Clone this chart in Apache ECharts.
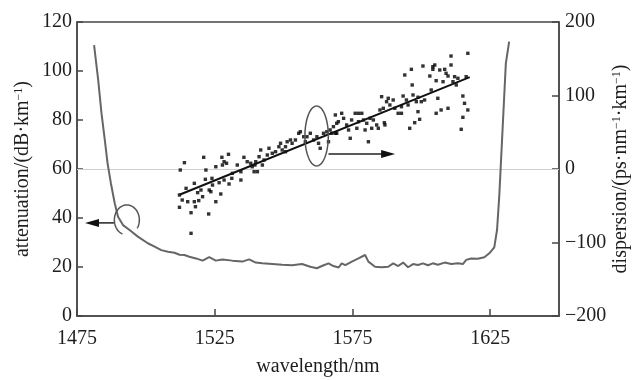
<!DOCTYPE html>
<html><head><meta charset="utf-8">
<script src="https://cdn.jsdelivr.net/npm/echarts@6/dist/echarts.min.js"></script>
<style>html,body{margin:0;padding:0;background:#fff}#c{width:635px;height:380px}</style>
</head><body><div id="c"></div>
<script>
// ---- data ----
const xTicks = [1475, 1525, 1575, 1625];
const attWavelength = [1481.2,1482.7,1483.9,1485.1,1486.1,1487.3,1488.7,1489.9,1491.7,1494.1,1497.1,1500.7,1503.0,1505.6,1508.0,1510.4,1512.2,1514.0,1515.8,1518.2,1520.6,1523.0,1525.4,1527.8,1531.4,1535.0,1537.5,1539.9,1542.3,1545.9,1549.5,1553.1,1556.7,1559.7,1562.1,1563.9,1566.3,1568.1,1570.0,1571.1,1572.4,1574.8,1577.2,1579.6,1580.8,1583.2,1585.6,1588.0,1589.8,1591.6,1593.4,1595.2,1597.0,1598.8,1600.6,1602.4,1604.2,1606.0,1608.5,1610.9,1613.3,1615.1,1616.3,1618.1,1620.5,1622.9,1624.7,1626.5,1627.5,1628.3,1628.9,1629.5,1630.1,1630.7,1631.9];
const attenuation = [110.6,96.3,82.7,71.8,62.3,54.2,46.0,40.5,37.1,35.1,32.4,29.7,28.4,26.9,26.2,25.8,25.0,24.9,24.2,23.5,22.6,24.0,22.6,23.1,22.6,22.2,23.1,21.8,21.5,21.2,20.9,20.7,21.2,20.1,19.5,20.4,21.5,20.4,19.8,21.5,20.8,22.2,23.5,24.9,22.2,20.1,19.9,20.1,21.5,20.4,21.8,19.9,21.2,20.8,21.5,20.7,21.5,20.9,21.8,21.2,21.5,21.2,22.9,23.5,23.4,24.0,25.6,28.0,35.1,48.7,62.3,75.9,89.5,103.1,112.0];
const dispWavelength = [1514.0,1512.5,1521.0,1527.6,1530.0,1528.4,1529.3,1527.8,1521.8,1525.4,1533.2,1535.6,1536.8,1538.1,1539.6,1540.5,1534.5,1531.4,1531.2,1528.4,1526.6,1524.0,1521.6,1517.6,1514.6,1534.5,1530.2,1524.2,1520.0,1523.0,1518.8,1512.2,1513.2,1515.2,1520.6,1523.6,1527.2,1525.4,1517.6,1519.2,1512.2,1518.0,1516.4,1522.8,1516.4,1538.6,1539.9,1539.3,1541.1,1541.7,1542.9,1544.1,1544.7,1545.9,1547.1,1548.3,1548.9,1549.5,1550.7,1551.3,1552.5,1553.1,1554.3,1555.5,1556.1,1557.3,1558.5,1559.7,1560.9,1562.7,1563.3,1562.1,1564.5,1565.7,1566.3,1566.9,1568.1,1569.3,1568.8,1542.3,1550.7,1557.9,1594.0,1568.8,1571.1,1571.8,1569.9,1572.9,1574.7,1576.0,1577.2,1578.4,1577.2,1579.0,1580.2,1581.4,1582.6,1583.8,1584.4,1585.0,1586.2,1585.6,1587.4,1588.6,1588.0,1589.8,1590.4,1591.6,1592.8,1594.6,1573.6,1576.6,1579.6,1582.0,1574.2,1580.8,1567.5,1586.6,1586.8,1569.3,1610.8,1616.9,1596.4,1600.6,1604.2,1604.9,1606.7,1608.5,1610.8,1603.1,1604.2,1609.0,1609.7,1612.1,1613.3,1616.3,1611.5,1607.9,1605.4,1596.7,1612.7,1603.6,1593.4,1597.0,1598.8,1600.0,1601.2,1595.2,1598.2,1606.0,1615.1,1615.7,1616.9,1598.8,1607.2,1609.7,1605.4,1599.4,1597.6,1595.8,1615.1,1614.5,1592.8];
const dispersion = [8.6,-1.4,15.9,15.9,20.0,9.9,7.8,5.4,-1.4,3.1,5.4,15.9,9.9,7.8,5.4,-3.7,-3.7,-5.9,-12.7,-15.0,-18.6,-12.7,-14.0,-19.5,-26.3,-15.0,-20.4,-21.8,-28.6,-28.6,-32.2,-35.4,-42.2,-44.5,-37.7,-30.9,-34.0,-44.5,-44.5,-43.0,-52.1,-51.3,-59.5,-61.2,-87.5,3.1,9.9,-3.7,16.7,25.9,12.2,19.0,28.2,21.4,23.5,30.3,35.0,25.9,30.3,37.1,39.5,35.0,39.5,48.6,50.7,43.9,43.9,48.6,39.5,35.0,28.2,43.9,48.6,50.7,37.1,53.1,57.6,62.2,48.6,5.4,23.5,37.1,127.9,73.5,75.8,69.0,64.4,59.9,66.7,75.8,75.8,75.8,64.4,66.7,62.2,69.0,66.7,59.9,55.4,80.3,82.6,98.4,91.6,87.1,96.2,93.9,82.6,75.8,84.8,93.9,53.1,55.4,53.1,55.4,41.8,37.1,48.6,63.0,59.9,48.6,153.7,157.4,135.6,140.1,139.2,141.5,134.7,135.6,141.5,126.5,135.6,130.2,126.5,125.6,123.4,125.6,118.8,118.8,120.1,114.3,114.3,107.5,99.3,100.7,97.6,91.6,93.9,87.1,91.6,96.2,99.3,89.4,80.3,78.0,80.3,82.6,75.8,67.6,63.0,55.4,70.3,54.0,75.8];
const fitWavelength = [1512.2, 1617.6];
const fitDispersion = [-35, 125];

const FONT = 'Liberation Serif';
const TXT = '#1e1e1e';
const AX = '#474747';
const minusFmt = v => String(v).replace('-', '\u2212');
const nameStyle = {fontFamily: FONT, fontSize: 20, color: TXT,
  rich: {sup: {fontFamily: FONT, fontSize: 12, color: TXT, verticalAlign: 'top', lineHeight: 12}}};

const chart = echarts.init(document.getElementById('c'), null, {renderer: 'canvas'});
chart.setOption({
  animation: false,
  backgroundColor: '#fff',
  grid: {left: 77, right: 76, top: 22, bottom: 64, show: true, borderColor: AX, borderWidth: 1.5,
    containLabel: false, outerBoundsMode: 'none'},
  xAxis: {
    type: 'value', min: 1475, max: 1650,
    axisLine: {lineStyle: {color: AX, width: 1.5}},
    axisTick: {inside: true, length: 7, customValues: xTicks, lineStyle: {color: AX, width: 1.5}},
    axisLabel: {customValues: xTicks, fontFamily: FONT, fontSize: 20, color: TXT, margin: 13, formatter: v => String(v)},
    splitLine: {show: false},
    name: 'wavelength/nm', nameLocation: 'middle', nameGap: 41, nameMoveOverlap: false,
    nameTextStyle: {fontFamily: FONT, fontSize: 20, color: TXT}
  },
  yAxis: [{
    type: 'value', min: 0, max: 120, interval: 20, position: 'left',
    axisLine: {show: true, lineStyle: {color: AX, width: 1.5}},
    axisTick: {inside: true, length: 6, lineStyle: {color: AX, width: 1.5}},
    axisLabel: {fontFamily: FONT, fontSize: 20, color: TXT, margin: 5},
    splitLine: {show: false},
    name: 'attenuation/(dB\u00b7km{sup|\u22121})', nameLocation: 'middle', nameGap: 44, nameRotate: 90, nameMoveOverlap: false,
    nameTextStyle: nameStyle
  }, {
    type: 'value', min: -200, max: 200, interval: 100, position: 'right',
    axisLine: {show: true, lineStyle: {color: AX, width: 1.5}},
    axisTick: {inside: true, length: 7, lineStyle: {color: AX, width: 1.5}},
    axisLabel: {fontFamily: FONT, fontSize: 20, color: TXT, margin: 6, formatter: minusFmt},
    splitLine: {show: false},
    name: 'dispersion/(ps\u00b7nm{sup|\u22121}\u00b7km{sup|\u22121})', nameLocation: 'middle', nameGap: 52, nameRotate: 90, nameMoveOverlap: false,
    nameTextStyle: nameStyle
  }],
  series: [{
    type: 'line', name: 'attenuation', yAxisIndex: 0, showSymbol: false, symbol: 'none',
    data: attWavelength.map((w, i) => [w, attenuation[i]]),
    lineStyle: {color: '#666', width: 2}, z: 3
  }, {
    type: 'scatter', name: 'dispersion', yAxisIndex: 1, symbol: 'rect', symbolSize: 3.4,
    data: dispWavelength.map((w, i) => [w, dispersion[i]]),
    itemStyle: {color: '#000'}, z: 4,
    markLine: {silent: true, symbol: 'none', label: {show: false},
      lineStyle: {color: '#cfcfcf', width: 1.2, type: 'solid'}, data: [{yAxis: 0}], z: 1}
  }, {
    type: 'line', name: 'fit', yAxisIndex: 1, showSymbol: false, symbol: 'none',
    data: fitWavelength.map((w, i) => [w, fitDispersion[i]]),
    lineStyle: {color: '#111', width: 2}, z: 5
  }]
});

// ---- annotations (ellipses and arrows) anchored in data coordinates ----
function px(axisIdx, p) { return chart.convertToPixel({xAxisIndex: 0, yAxisIndex: axisIdx}, p); }
function ellipsePts(c, rx, ry, a0, a1, n) {
  const pts = [];
  for (let i = 0; i <= n; i++) {
    const a = (a0 + (a1 - a0) * i / n) * Math.PI / 180;
    pts.push([c[0] + rx * Math.cos(a), c[1] + ry * Math.sin(a)]);
  }
  return pts;
}
function arrow(from, to) {
  const dir = Math.sign(to[0] - from[0]);
  const L = 14, W = 4;
  return [
    {type: 'line', shape: {x1: from[0], y1: from[1], x2: to[0] - dir * L * 0.6, y2: to[1]},
     style: {stroke: '#222', lineWidth: 1.5}, z: 10},
    {type: 'polygon', shape: {points: [[to[0], to[1]], [to[0] - dir * L, to[1] - W], [to[0] - dir * L, to[1] + W]]},
     style: {fill: '#111'}, z: 10}
  ];
}
const eC = px(1, [1562.0, 44.9]);
const aStart = px(1, [1566.3, 20.4]);
const aEnd = px(1, [1590.5, 20.4]);
const cC = px(0, [1493.1, 39.2]);
const lStart = px(0, [1488.4, 38.0]);
const lEnd = px(0, [1477.9, 38.0]);
chart.setOption({
  graphic: [
    {type: 'polyline', shape: {points: ellipsePts(eC, 11.7, 30, 0, 360, 72)}, style: {stroke: '#555', lineWidth: 1.5, fill: null}, z: 10},
    {type: 'polyline', shape: {points: ellipsePts(cC, 12.5, 15, 111, 394, 60)}, style: {stroke: '#555', lineWidth: 1.5, fill: null}, z: 10},
    ...arrow(aStart, aEnd),
    ...arrow(lStart, lEnd)
  ]
});
</script></body></html>
